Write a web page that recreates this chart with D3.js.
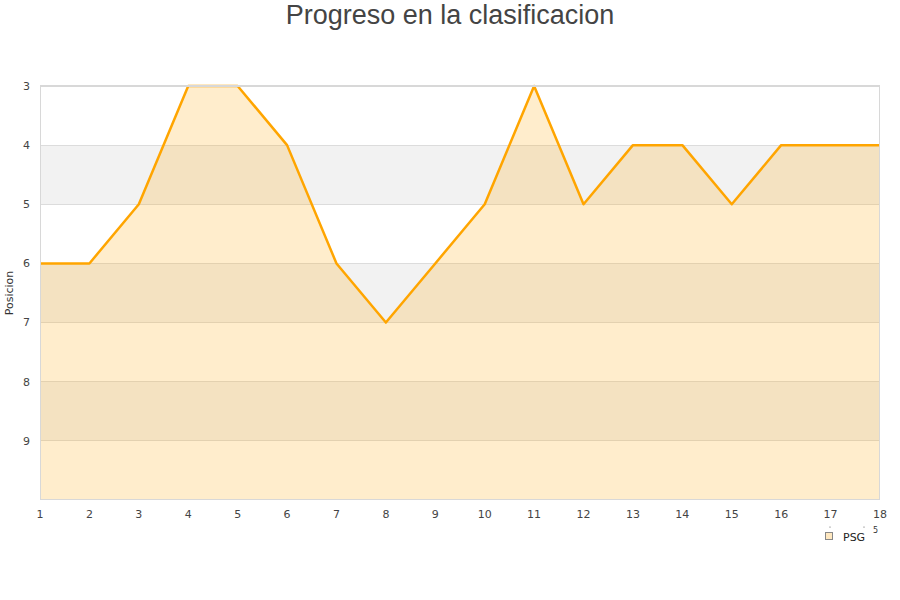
<!DOCTYPE html>
<html><head><meta charset="utf-8">
<script src="https://cdn.jsdelivr.net/npm/d3@7"></script>
<style>body{margin:0;background:#fff}svg{display:block}</style>
</head><body>
<svg id="c" width="900" height="600"></svg>
<script>
const jornadas = [1,2,3,4,5,6,7,8,9,10,11,12,13,14,15,16,17,18];
const posiciones = [6,6,5,3,3,4,6,7,6,5,3,5,4,4,5,4,4,4];
const yTicks = [3,4,5,6,7,8,9];
const bands = [4,6,8];
const seriesName = "PSG";
const title = "Progreso en la clasificacion";
const yLabel = "Posicion";

const svg = d3.select("#c");
const L = 40, R = 880, T = 86, B = 500;
const x = d3.scaleLinear().domain([1,18]).range([L,R]);
const y = d3.scaleLinear().domain([3,10]).range([T,B]);

// bands
svg.selectAll("rect.band").data(bands).enter().append("rect")
  .attr("x", L).attr("width", R-L)
  .attr("y", d => y(d)).attr("height", d => y(d+1)-y(d))
  .attr("fill", "#f2f2f2");
// grid lines
svg.selectAll("line.grid").data(yTicks).enter().append("line")
  .attr("x1", L).attr("x2", R).attr("y1", d => y(d)).attr("y2", d => y(d))
  .attr("stroke", "#dcdcdc").attr("stroke-width", 1).attr("shape-rendering","crispEdges");

const data = jornadas.map((j,i)=>({j, p: posiciones[i]}));
svg.append("path").datum(data)
  .attr("d", d3.area().x(d=>x(d.j)).y0(y(10)).y1(d=>y(d.p)))
  .attr("fill", "#ffa500").attr("fill-opacity", 0.2);
svg.append("path").datum(data)
  .attr("d", d3.line().x(d=>x(d.j)).y(d=>y(d.p)))
  .attr("fill", "none").attr("stroke", "#ffa500").attr("stroke-width", 2.5)
  .attr("stroke-linejoin","round");

// top grid drawn over
svg.append("line").attr("x1", L).attr("x2", R).attr("y1", y(3)-1).attr("y2", y(3)-1)
  .attr("stroke", "#d8d8d8").attr("shape-rendering","crispEdges");
// border
svg.append("rect").attr("x", L+0.5).attr("y", T+0.5).attr("width", R-L-1).attr("height", B-T-1)
  .attr("fill","none").attr("stroke","#d8d8d8").attr("shape-rendering","crispEdges");

// axes labels
const font = "DejaVu Sans, sans-serif";
svg.selectAll("text.yt").data(yTicks).enter().append("text")
  .attr("x", 30).attr("y", d => y(d)).attr("dy","0.35em")
  .attr("text-anchor","end").attr("font-family",font).attr("font-size",11).attr("fill","#444")
  .text(d=>d);
svg.selectAll("text.xt").data(jornadas).enter().append("text")
  .attr("x", d => x(d)).attr("y", 514).attr("dy","0.35em")
  .attr("text-anchor","middle").attr("font-family",font).attr("font-size",11).attr("fill","#444")
  .text(d=>d);

svg.append("text").attr("transform","translate(13,293) rotate(-90)")
  .attr("text-anchor","middle").attr("font-family",font).attr("font-size",11).attr("fill","#333")
  .text(yLabel);

svg.append("text").attr("x",450).attr("y",24).attr("text-anchor","middle")
  .attr("font-family","Liberation Sans, Arial, sans-serif").attr("font-size",27).attr("fill","#444")
  .text(title);

// legend
svg.append("rect").attr("x",825.5).attr("y",532.5).attr("width",7).attr("height",7)
  .attr("fill","#ffe8c0").attr("stroke","#888");
svg.append("text").attr("x",843).attr("y",537).attr("dy","0.35em")
  .attr("font-family",font).attr("font-size",11).attr("fill","#222").text(seriesName);
svg.append("text").attr("x",873).attr("y",533).attr("font-family",font).attr("font-size",8).attr("fill","#333").text("5");
svg.append("circle").attr("cx",830).attr("cy",527).attr("r",0.6).attr("fill","#555");
svg.append("circle").attr("cx",864).attr("cy",527).attr("r",0.6).attr("fill","#555");
</script>
</body></html>
